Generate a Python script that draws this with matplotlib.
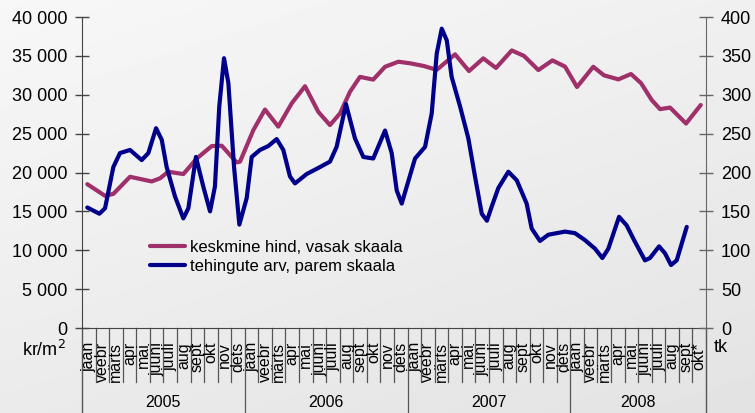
import matplotlib.pyplot as plt
import numpy as np
from matplotlib.ticker import FuncFormatter
import matplotlib.transforms as mtransforms

plt.rcParams['font.family'] = ['Liberation Sans', 'DejaVu Sans']

# kuud (0 = jaan 2005), väärtused loetud pildilt
hind_kuu = [0.39, 1.70, 2.31, 3.54, 5.14, 5.75, 6.36, 7.47, 8.46, 9.56, 10.30, 11.40, 11.65,
            12.63, 13.49, 14.47, 15.46, 16.44, 17.42, 18.28, 19.02, 19.76, 20.49, 21.47, 22.34,
            23.32, 24.18, 25.20, 26.15, 27.50, 28.53, 29.58, 30.52, 31.68, 32.58, 33.64, 34.68,
            35.61, 36.49, 37.69, 38.48, 39.54, 40.47, 41.21, 42.00, 42.61, 43.35, 44.53, 45.61]
hind = [18500, 17000, 17250, 19450, 18850, 19250, 20100, 19800, 21800, 23400, 23450, 21300, 21400,
        25450, 28100, 25900, 28900, 31100, 27800, 26100, 27600, 30400, 32300, 31950, 33600,
        34250, 34050, 33700, 33200, 35200, 33050, 34680, 33450, 35700, 35000, 33180, 34420,
        33620, 31000, 33600, 32500, 31980, 32670, 31500, 29320, 28150, 28350, 26300, 28680]

arv_kuu = [0.39, 1.28, 1.70, 2.31, 2.80, 3.54, 4.40, 4.89, 5.46, 5.88, 6.24, 6.86, 7.47, 7.84,
           8.40, 8.94, 9.44, 9.80, 10.12, 10.47, 10.79, 11.21, 11.60, 12.14, 12.51, 13.12, 13.73,
           14.35, 14.84, 15.33, 15.70, 16.56, 17.54, 18.28, 18.77, 19.46, 20.12, 20.74, 21.47,
           22.34, 22.83, 23.20, 23.57, 23.94, 24.55, 25.29, 25.78, 26.15, 26.52, 26.89, 27.25,
           27.87, 28.48, 28.97, 29.47, 29.85, 30.20, 30.69, 31.43, 32.05, 32.78, 33.15, 33.76,
           34.38, 35.61, 36.34, 37.08, 37.82, 38.36, 38.80, 39.59, 40.15, 40.70, 41.50, 41.87,
           42.54, 42.98, 43.42, 43.84, 44.58]
arv = [155, 147, 154, 207, 225, 229, 216, 225, 257, 242, 207, 169, 141, 154,
       220, 182, 150, 182, 285, 347, 315, 207, 133, 167, 220, 229, 234,
       243, 229, 195, 186, 198, 207, 214, 233, 288, 244, 220, 218,
       254, 225, 177, 160, 182, 218, 233, 276, 353, 385, 370, 323,
       285, 244, 195, 147, 138, 156, 180, 201, 190, 160, 128, 112,
       120, 124, 122, 113, 102, 90, 102, 143, 132, 113, 87, 90,
       105, 96, 81, 87, 130]

kuud = ['jaan', 'veebr', 'märts', 'apr', 'mai', 'juuni', 'juuli', 'aug', 'sept', 'okt', 'nov', 'dets']
aastad = ['2005', '2006', '2007', '2008']
kuu_nimed = kuud * 3 + kuud[:9] + ['okt*']

fig = plt.figure(figsize=(7.55, 4.13), dpi=100)
fig.patch.set_facecolor('#eeeeee')

# taust: hele hall gradient
bg = fig.add_axes([0, 0, 1, 1], zorder=-10)
gx, gy = np.meshgrid(np.linspace(0, 1, 200), np.linspace(0, 1, 200))
grad = 0.97 - 0.05 * gy - 0.03 * gx
bg.imshow(grad, cmap='gray', vmin=0, vmax=1, aspect='auto', extent=[0, 1, 0, 1])
bg.axis('off')

ax = fig.add_axes([0.1086, 0.2058, 0.8265, 0.7530])
ax.patch.set_alpha(0)
ax2 = ax.twinx()

punane = '#a0306a'
sinine = '#00008a'
l1, = ax.plot(hind_kuu, hind, color=punane, lw=3, solid_joinstyle='round',
              solid_capstyle='round', label='keskmine hind, vasak skaala')
l2, = ax2.plot(arv_kuu, arv, color=sinine, lw=3, solid_joinstyle='round',
               solid_capstyle='round', label='tehingute arv, parem skaala')

ax.set_xlim(0, 46)
ax.set_ylim(0, 40000)
ax2.set_ylim(0, 400)
ax.set_yticks(range(0, 40001, 5000))
ax2.set_yticks(range(0, 401, 50))
ax.yaxis.set_major_formatter(FuncFormatter(lambda v, p: f'{int(v):,}'.replace(',', ' ')))
ax.set_xticks([])

for s in ['top', 'right']:
    ax.spines[s].set_visible(False)
for s in ['top', 'left', 'bottom']:
    ax2.spines[s].set_visible(False)
ax.spines['left'].set_color('#444444')
ax.spines['bottom'].set_color('#444444')
ax2.spines['right'].set_color('#666666')
ax.tick_params(axis='y', direction='inout', length=9.5, width=1, color='#444444',
               labelsize=13, pad=6)
ax2.tick_params(axis='y', direction='inout', length=9.5, width=1, color='#666666',
                labelsize=13, pad=6)

# kuude ja aastate eraldajad x-telje all
trans = mtransforms.blended_transform_factory(ax.transData, ax.transAxes)
for i in range(1, 46):
    low = -0.275 if i % 12 == 0 else -0.174
    ax.plot([i, i], [0, low], transform=trans, color='#555555', lw=0.9, clip_on=False)
for x in [0, 46]:
    ax.plot([x, x], [0, -0.275], transform=trans, color='#555555', lw=1, clip_on=False)
for i, nimi in enumerate(kuu_nimed):
    ax.text(i + 0.5, -0.045, nimi, transform=trans, rotation=90, ha='center', va='top',
            fontsize=11.5)
for j, a in enumerate(aastad):
    kesk = j * 12 + 6 if j < 3 else 36 + 5
    ax.text(kesk, -0.238, a, transform=trans, ha='center', va='center', fontsize=11.5)

fig.text(66 / 755, 1 - 350 / 413, 'kr/m$^2$', ha='right', va='center', fontsize=13)
fig.text(714 / 755, 1 - 348 / 413, 'tk', ha='left', va='center', fontsize=13)

ax2.legend(handles=[l1, l2], loc='upper left', bbox_to_anchor=(0.098, 0.305), frameon=False,
           fontsize=12, handlelength=2.1, handletextpad=0.3, labelspacing=0.25,
           borderaxespad=0)

fig.savefig('out.png', dpi=100, facecolor=fig.get_facecolor())
